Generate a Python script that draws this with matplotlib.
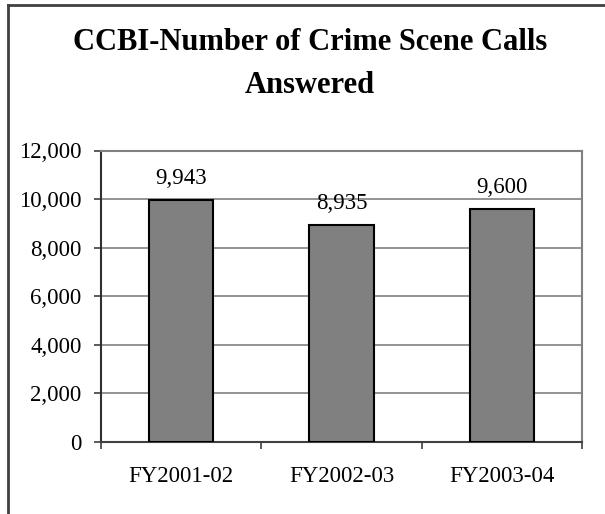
import matplotlib
matplotlib.use("Agg")
import matplotlib.pyplot as plt
from matplotlib.lines import Line2D
from matplotlib.ticker import FuncFormatter, MultipleLocator

categories = ["FY2001-02", "FY2002-03", "FY2003-04"]
values = [9943, 8935, 9600]
title_lines = ["CCBI-Number of Crime Scene Calls", "Answered"]

W, H = 605, 514
fig = plt.figure(figsize=(W / 100, H / 100), dpi=100)
plt.rcParams['font.family'] = ['Liberation Serif', 'DejaVu Serif']

# figure border (top and left only visible)
fig.add_artist(Line2D([7.5 / W, 1.0], [1 - 4.5 / H, 1 - 4.5 / H], transform=fig.transFigure,
                      color="#404040", lw=2))
fig.add_artist(Line2D([7.5 / W, 7.5 / W], [0, 1 - 4.5 / H], transform=fig.transFigure,
                      color="#404040", lw=2))

# title
fig.text(310 / W, 1 - 50 / H, title_lines[0], ha="center", va="baseline",
         fontsize=22, fontweight="bold")
fig.text(310 / W, 1 - 93 / H, title_lines[1], ha="center", va="baseline",
         fontsize=22, fontweight="bold")

left, right, top, bottom = 101, 582, 150.5, 442
ax = fig.add_axes([left / W, 1 - bottom / H, (right - left) / W, (bottom - top) / H])

x = list(range(len(categories)))
ax.bar(x, values, width=0.4, color="#808080", edgecolor="black", linewidth=1.5, zorder=3)
for xi, v in zip(x, values):
    ax.annotate(f"{v:,}", (xi, v), xytext=(0, 8), textcoords="offset points",
                ha="center", va="bottom", fontsize=16.5)

ax.set_xlim(-0.5, len(categories) - 0.5)
ax.set_ylim(0, 12000)
ax.yaxis.set_major_locator(MultipleLocator(2000))
ax.yaxis.set_major_formatter(FuncFormatter(lambda v, p: f"{int(v):,}"))
ax.grid(axis="y", color="#808080", lw=1.2, zorder=0)

ax.set_xticks([i - 0.5 for i in range(len(categories) + 1)], minor=False)
ax.set_xticklabels([""] * (len(categories) + 1))
ax.set_xticks(x, minor=True)
ax.set_xticklabels(categories, minor=True)
ax.tick_params(axis="x", which="minor", length=0, pad=17, labelsize=16.5)
ax.tick_params(axis="x", which="major", length=5, width=1.2, color="#404040", direction="out")
ax.tick_params(axis="y", length=5, width=1.2, color="#404040", direction="out", labelsize=16.5, pad=9)

for s in ["top", "right"]:
    ax.spines[s].set_color("#808080")
    ax.spines[s].set_linewidth(1.5)
ax.spines["left"].set_color("#303030")
ax.spines["left"].set_linewidth(1.5)
ax.spines["bottom"].set_color("#404040")
ax.spines["bottom"].set_linewidth(1.5)

fig.savefig("out.png", dpi=100)
